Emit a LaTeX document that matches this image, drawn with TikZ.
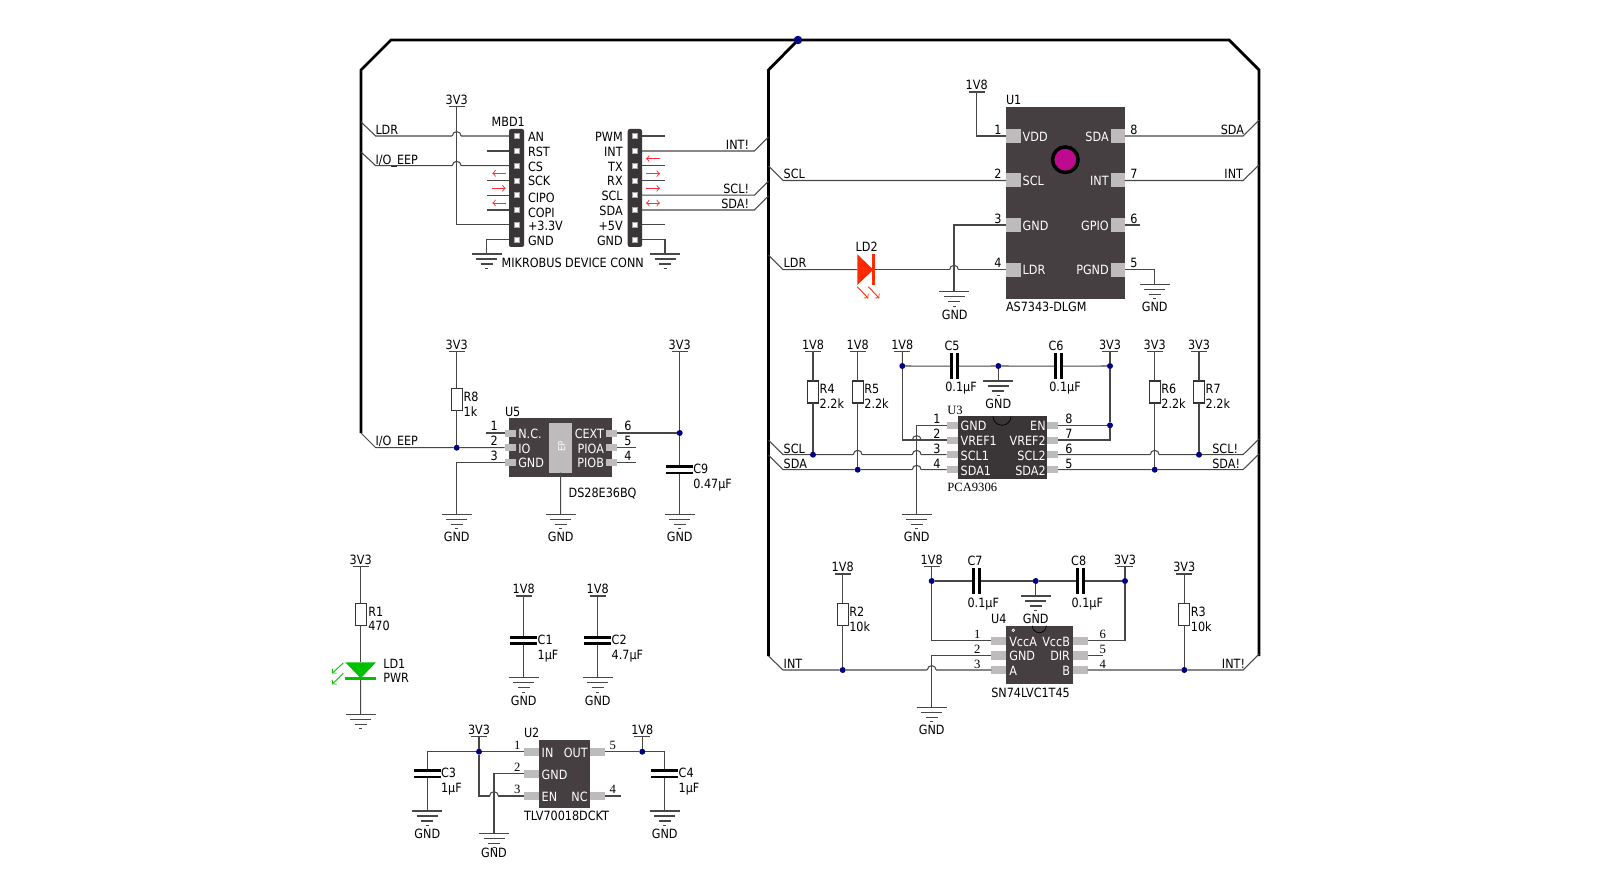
\documentclass[tikz,border=0pt]{standalone}
\usepackage{fontspec}
\setmainfont[FakeStretch=0.88]{DejaVu Sans}
\newfontfamily\serifn{Liberation Serif}
\usetikzlibrary{calc}
\definecolor{chipdark}{HTML}{463F42}
\definecolor{chipblack}{HTML}{3A3537}
\definecolor{padgrey}{HTML}{BDBBBC}
\definecolor{dotblue}{HTML}{000080}
\definecolor{ledred}{HTML}{FF2A00}
\definecolor{ledgreen}{HTML}{00C000}
\definecolor{arrred}{HTML}{FF2A3C}
\definecolor{sensor}{HTML}{BE0A8E}
\tikzset{
	wire/.style={line width=0.6pt,draw=black!72},
	busline/.style={line width=1.6pt,draw=black,line join=miter},
	ct/.style={inner sep=0pt,outer sep=0pt,font=\fontsize{7.25}{8}\selectfont,text height=5.3pt,text depth=0pt},
	lt/.style={ct,anchor=west},
	rt/.style={ct,anchor=east},
	wlt/.style={lt,text=white},
	wrt/.style={rt,text=white},
	st/.style={ct,font=\fontsize{7.2}{8}\selectfont\serifn},
	slt/.style={st,anchor=west},
	chipn/.style={fill=chipdark,inner sep=0pt,outer sep=0pt},
	chipk/.style={fill=chipblack,inner sep=0pt,outer sep=0pt},
	padn/.style={fill=padgrey,inner sep=0pt,outer sep=0pt},
	hdrn/.style={fill=chipblack,rounded corners=1.2pt,inner sep=0pt,outer sep=0pt},
	sqn/.style={fill=white,draw=black!35,line width=0.4pt,minimum size=0.1cm,inner sep=0pt,outer sep=0pt},
	resn/.style={draw=black!80,line width=0.6pt,fill=white,inner sep=0pt,outer sep=0pt},
	platen/.style={fill=black,inner sep=0pt,outer sep=0pt},
	dotn/.style={circle,fill=dotblue,minimum size=0.12cm,inner sep=0pt,outer sep=0pt},
	dirarr/.style={->,line width=0.5pt,draw=arrred},
}
\def\boxn[#1](#2)(#3,#4)(#5,#6){\node[#1,minimum width={(#5-#3)*0.02cm},minimum height={(#6-#4)*0.02cm}] (#2) at ({(#3+#5)/2},{(#4+#6)/2}) {};}
\def\rail(#1)(#2,#3)#4{\coordinate (#1) at (#2,#3); \draw[wire] ({#2-8},#3) -- ({#2+8},#3); \node[ct] (#1t) at (#2,{#3-6.7}) {#4};}
\def\gnd(#1)(#2,#3){\coordinate (#1) at (#2,#3); \draw[wire] ({#2-15},#3) -- ({#2+15},#3) ({#2-10.5},{#3+5}) -- ({#2+10.5},{#3+5}) ({#2-6},{#3+10}) -- ({#2+6},{#3+10}) ({#2-1.5},{#3+14.5}) -- ({#2+1.5},{#3+14.5});}
\def\hop(#1,#2){\draw[white,line width=1.1pt] ({#1-4.4},#2) -- ({#1+4.4},#2); \draw[wire] ({#1-4.4},#2) arc (180:360:4.4);}
\def\dirn[#1](#2)(#3,#4)(#5,#6){\coordinate (#2a) at (#3,#4); \coordinate (#2b) at (#5,#6); \draw[#1] (#2a) -- (#2b);}

\begin{document}
\begin{tikzpicture}[x=0.02cm,y=-0.02cm]
	\useasboundingbox (0,0) rectangle (1599,871);
	%%%%% START %%%%%
	% bus outline
	\coordinate (busT) at (798,40);
	\coordinate (busLa) at (391,40);
	\coordinate (busLb) at (361,70);
	\coordinate (busLc) at (361,433);
	\coordinate (busMa) at (768.5,70);
	\coordinate (busMb) at (768.5,656);
	\coordinate (busRa) at (1229,40);
	\coordinate (busRb) at (1259,70);
	\coordinate (busRc) at (1259,656);
	\draw[busline] (busLc) -- (busLb) -- (busLa) -- (busT) -- (busRa) -- (busRb) -- (busRc);
	\draw[busline] (busT) -- (busMa) -- (busMb);
	\node[dotn,minimum size=0.17cm] (jtop) at (798,40) {};
	
	% net stubs on the bus
	\coordinate (ldrAb) at (361,122);
	\coordinate (ldrAa) at (375.7,136);
	\coordinate (ioAb) at (361,152);
	\coordinate (ioAa) at (375.7,165.7);
	\coordinate (ioBb) at (361,433);
	\coordinate (ioBa) at (375.7,447.7);
	\coordinate (intAb) at (768.5,137);
	\coordinate (intAa) at (754.3,151);
	\coordinate (sclAb) at (768.5,181);
	\coordinate (sclAa) at (754.3,195.2);
	\coordinate (sdaAb) at (768.5,196);
	\coordinate (sdaAa) at (754.3,210);
	\coordinate (sclBb) at (768.5,166);
	\coordinate (sclBa) at (783,180.5);
	\coordinate (ldrBb) at (768.5,255);
	\coordinate (ldrBa) at (783,269.7);
	\coordinate (sclCb) at (768.5,440);
	\coordinate (sclCa) at (783,454.7);
	\coordinate (sdaCb) at (768.5,455);
	\coordinate (sdaCa) at (783,469.7);
	\coordinate (intCb) at (768.5,656);
	\coordinate (intCa) at (783,670);
	\coordinate (sdaDa) at (1243,136);
	\coordinate (sdaDb) at (1259,120);
	\coordinate (intDa) at (1243,180.5);
	\coordinate (intDb) at (1259,165);
	\coordinate (sclEa) at (1243,454.7);
	\coordinate (sclEb) at (1259,439);
	\coordinate (sdaEa) at (1243,469.7);
	\coordinate (sdaEb) at (1259,454);
	\coordinate (intEa) at (1243,670);
	\coordinate (intEb) at (1259,654);
	\node[lt] (ldrAt) at (375.5,130) {LDR};
	\node[lt] (ioAt) at (375.5,159.5) {I/O\_EEP};
	\node[lt] (ioBt) at (375.5,441) {I/O\_EEP};
	\node[rt] (intAt) at (749,144.5) {INT!};
	\node[rt] (sclAt) at (749,189) {SCL!};
	\node[rt] (sdaAt) at (749,204) {SDA!};
	\node[lt] (sclBt) at (783.7,174) {SCL};
	\node[lt] (ldrBt) at (783.7,263) {LDR};
	\node[lt] (sclCt) at (783.7,448.5) {SCL};
	\node[lt] (sdaCt) at (783.7,463.5) {SDA};
	\node[lt] (intCt) at (783.7,663.5) {INT};
	\node[rt] (sdaDt) at (1244,129.5) {SDA};
	\node[rt] (intDt) at (1243,174) {INT};
	\node[rt] (sclEt) at (1238,448.5) {SCL!};
	\node[rt] (sdaEt) at (1240,463.5) {SDA!};
	\node[rt] (intEt) at (1245,663.5) {INT!};
	
	% mikrobus header
	\boxn[hdrn](mbl)(509,129)(524,247)
	\boxn[hdrn](mbr)(627.7,129)(642,247)
	\node[sqn] (mbl1) at (516.7,136) {};
	\node[sqn] (mbl2) at (516.7,151) {};
	\node[sqn] (mbl3) at (516.7,165.7) {};
	\node[sqn] (mbl4) at (516.7,180.5) {};
	\node[sqn] (mbl5) at (516.7,195.2) {};
	\node[sqn] (mbl6) at (516.7,210) {};
	\node[sqn] (mbl7) at (516.7,224.8) {};
	\node[sqn] (mbl8) at (516.7,239.6) {};
	\node[sqn] (mbr1) at (635,136) {};
	\node[sqn] (mbr2) at (635,151) {};
	\node[sqn] (mbr3) at (635,165.7) {};
	\node[sqn] (mbr4) at (635,180.5) {};
	\node[sqn] (mbr5) at (635,195.2) {};
	\node[sqn] (mbr6) at (635,210) {};
	\node[sqn] (mbr7) at (635,224.8) {};
	\node[sqn] (mbr8) at (635,239.6) {};
	\node[lt] (mbl1t) at (528,136.7) {AN};
	\node[lt] (mbl2t) at (528,151.7) {RST};
	\node[lt] (mbl3t) at (528,166.7) {CS};
	\node[lt] (mbl4t) at (528,181.3) {SCK};
	\node[lt] (mbl5t) at (528,197.7) {CIPO};
	\node[lt] (mbl6t) at (528,212.7) {COPI};
	\node[lt] (mbl7t) at (528,226) {+3.3V};
	\node[lt] (mbl8t) at (528,240.7) {GND};
	\node[rt] (mbr1t) at (622.7,136.7) {PWM};
	\node[rt] (mbr2t) at (622.7,151.7) {INT};
	\node[rt] (mbr3t) at (622.7,166.7) {TX};
	\node[rt] (mbr4t) at (622.7,181.3) {RX};
	\node[rt] (mbr5t) at (622.7,196) {SCL};
	\node[rt] (mbr6t) at (622.7,211) {SDA};
	\node[rt] (mbr7t) at (622.7,225.7) {+5V};
	\node[rt] (mbr8t) at (622.7,240.7) {GND};
	\node[lt] (mbdt) at (491.7,122.3) {MBD1};
	\node[lt] (mbdn) at (501.7,262.7) {MIKROBUS DEVICE CONN};
	
	\coordinate (mst2) at (486.7,151);
	\coordinate (mst4) at (486.7,180.5);
	\coordinate (mst5) at (486.7,195.2);
	\coordinate (mst6) at (486.7,210);
	\coordinate (nst1) at (665,136);
	\coordinate (nst3) at (665,165.7);
	\coordinate (nst4) at (665,180.5);
	\coordinate (nst7) at (665,224.8);
	\draw[wire] (mst2) -- (mbl2 -| mbl.west);
	\draw[wire] (mst4) -- (mbl4 -| mbl.west);
	\draw[wire] (mst5) -- (mbl5 -| mbl.west);
	\draw[wire] (mst6) -- (mbl6 -| mbl.west);
	\draw[wire] (nst1) -- (mbr1 -| mbr.east);
	\draw[wire] (nst3) -- (mbr3 -| mbr.east);
	\draw[wire] (nst4) -- (mbr4 -| mbr.east);
	\draw[wire] (nst7) -- (mbr7 -| mbr.east);
	\draw[wire] (ldrAb) -- (ldrAa) -- (mbl1 -| mbl.west);
	\draw[wire] (ioAb) -- (ioAa) -- (mbl3 -| mbl.west);
	\hop(456.7,136)
	\hop(456.7,165.7)
	\rail(vmb)(456.7,106.7){3V3}
	\draw[wire] (vmb) |- (mbl7 -| mbl.west);
	\gnd(gml)(486.7,254)
	\gnd(gmr)(665,254)
	\draw[wire] (gml) |- (mbl8 -| mbl.west);
	\draw[wire] (gmr) |- (mbr8 -| mbr.east);
	\draw[wire] (mbr2 -| mbr.east) -- (intAa) -- (intAb);
	\draw[wire] (mbr5 -| mbr.east) -- (sclAa) -- (sclAb);
	\draw[wire] (mbr6 -| mbr.east) -- (sdaAa) -- (sdaAb);
	\dirn[dirarr](da1)(505.7,173.3)(492.3,173.3)
	\dirn[dirarr](da2)(492.3,188.3)(505.7,188.3)
	\dirn[dirarr](da3)(505.7,203)(492.3,203)
	\dirn[dirarr](da4)(660,158.7)(646,158.7)
	\dirn[dirarr](da5)(646,173.7)(660,173.7)
	\dirn[dirarr](da6)(646,188.3)(660,188.3)
	\dirn[dirarr,<->](da7)(646,203)(660,203)
	
	% U1
	\boxn[chipn](u1)(1006,106.7)(1124.7,298.7)
	\boxn[padn](u1p1)(1006,129)(1020.5,143)
	\boxn[padn](u1p2)(1006,173.5)(1020.5,187.5)
	\boxn[padn](u1p3)(1006,218)(1020.5,232)
	\boxn[padn](u1p4)(1006,262.7)(1020.5,276.7)
	\boxn[padn](u1p8)(1110.5,129)(1124.7,143)
	\boxn[padn](u1p7)(1110.5,173.5)(1124.7,187.5)
	\boxn[padn](u1p6)(1110.5,218)(1124.7,232)
	\boxn[padn](u1p5)(1110.5,262.7)(1124.7,276.7)
	\node[circle,fill=sensor,draw=black,line width=2pt,minimum size=0.51cm,inner sep=0pt] (u1s) at (1065.3,159.7) {};
	\node[wlt] (u1a) at (1022.7,136.7) {VDD};
	\node[wlt] (u1b) at (1022.7,181) {SCL};
	\node[wlt] (u1c) at (1022.7,226) {GND};
	\node[wlt] (u1d) at (1022.7,270.3) {LDR};
	\node[wrt] (u1e) at (1108.7,136.7) {SDA};
	\node[wrt] (u1f) at (1108.7,181) {INT};
	\node[wrt] (u1g) at (1108.7,226) {GPIO};
	\node[wrt] (u1h) at (1108.7,270.3) {PGND};
	\node[lt] (u1t) at (1006,100) {U1};
	\node[lt] (u1n) at (1006,307.3) {AS7343-DLGM};
	\node[ct] (u1n1) at (998,129.6) {1};
	\node[ct] (u1n2) at (998,174) {2};
	\node[ct] (u1n3) at (998,218.7) {3};
	\node[ct] (u1n4) at (998,263) {4};
	\node[ct] (u1n8) at (1134,129.6) {8};
	\node[ct] (u1n7) at (1134,174) {7};
	\node[ct] (u1n6) at (1134,218.7) {6};
	\node[ct] (u1n5) at (1134,263) {5};
	\rail(vu1)(976.7,92){1V8}
	\draw[wire] (vu1) |- (u1p1.west);
	\draw[wire] (sclBb) -- (sclBa) -- (u1p2.west);
	\coordinate (ld2a) at (857.3,269.7);
	\coordinate (ld2k) at (873.3,269.7);
	\draw[wire] (ldrBb) -- (ldrBa) -- (ld2a);
	\draw[wire] (ld2k) -- (u1p4.west);
	\fill[ledred] (857.3,254.3) -- (ld2k) -- (857.3,285) -- cycle;
	\boxn[platen,fill=ledred](ld2b)(872,254.3)(874.6,285)
	\node[ct] (ld2t) at (866.7,246.7) {LD2};
	\dirn[->,line width=0.5pt,draw=ledred](la1)(857.3,286.7)(868.3,298.3)
	\dirn[->,line width=0.5pt,draw=ledred](la2)(868.3,286.7)(879.3,298.3)
	\hop(954,269.7)
	\gnd(gu1)(954,291.7)
	\node[ct] (gu1t) at (954.7,314.7) {GND};
	\draw[wire] (gu1) |- (u1p3.west);
	\gnd(gu2)(1154.7,284.3)
	\node[ct] (gu2t) at (1154.7,307.3) {GND};
	\draw[wire] (gu2) |- (u1p5.east);
	\coordinate (u1st) at (1140,225);
	\draw[wire] (u1p6.east) -- (u1st);
	\draw[wire] (u1p8.east) -- (sdaDa) -- (sdaDb);
	\draw[wire] (u1p7.east) -- (intDa) -- (intDb);
	
	% U3
	\boxn[chipk](u3)(958.3,416.3)(1046.7,478.7)
	\draw[black,line width=0.4pt] (993,416.3) arc (180:0:9);
	\boxn[padn](u3p1)(946.7,421.8)(958.3,428.8)
	\boxn[padn](u3p2)(946.7,436.5)(958.3,443.5)
	\boxn[padn](u3p3)(946.7,451.2)(958.3,458.2)
	\boxn[padn](u3p4)(946.7,466.2)(958.3,473.2)
	\boxn[padn](u3p8)(1046.7,421.8)(1058,428.8)
	\boxn[padn](u3p7)(1046.7,436.5)(1058,443.5)
	\boxn[padn](u3p6)(1046.7,451.2)(1058,458.2)
	\boxn[padn](u3p5)(1046.7,466.2)(1058,473.2)
	\node[wlt] (u3a) at (960.7,426) {GND};
	\node[wlt] (u3b) at (960.7,441) {VREF1};
	\node[wlt] (u3c) at (960.7,455.7) {SCL1};
	\node[wlt] (u3d) at (960.7,470.7) {SDA1};
	\node[wrt] (u3e) at (1045.7,426) {EN};
	\node[wrt] (u3f) at (1045.7,441) {VREF2};
	\node[wrt] (u3g) at (1045.7,455.7) {SCL2};
	\node[wrt] (u3h) at (1045.7,470.7) {SDA2};
	\node[ct] (u3n1) at (937,419.3) {1};
	\node[ct] (u3n2) at (937,434) {2};
	\node[ct] (u3n3) at (937,448.7) {3};
	\node[ct] (u3n4) at (937,463.5) {4};
	\node[ct] (u3n8) at (1069,419.3) {8};
	\node[ct] (u3n7) at (1069,434) {7};
	\node[ct] (u3n6) at (1069,448.7) {6};
	\node[ct] (u3n5) at (1069,463.5) {5};
	\node[slt] (u3t) at (947.3,410) {U3};
	\node[slt] (u3l) at (947.3,487) {PCA9306};
	\node[dotn] (j1) at (813,454.7) {};
	\node[dotn] (j2) at (857.7,469.7) {};
	\node[dotn] (j3) at (902.3,366) {};
	\node[dotn] (j4) at (998.3,366) {};
	\node[dotn] (j5) at (1110,366) {};
	\node[dotn] (j6) at (1110,425.3) {};
	\node[dotn] (j7) at (1154.7,469.7) {};
	\node[dotn] (j8) at (1199,454.7) {};
	\draw[wire] (sclCb) -- (sclCa) -- (j1) -- (u3p3.west);
	\draw[wire] (sdaCb) -- (sdaCa) -- (j2) -- (u3p4.west);
	\hop(857.7,454.7)
	\hop(916.7,440)
	\hop(916.7,454.7)
	\hop(916.7,469.7)
	\draw[wire] (u3p6.east) -- (j8) -- (sclEa) -- (sclEb);
	\draw[wire] (u3p5.east) -- (j7) -- (sdaEa) -- (sdaEb);
	\hop(1154.7,454.7)
	\rail(vr4)(813,351.3){1V8}
	\rail(vr5)(857.7,351.3){1V8}
	\rail(vc5)(902.3,351.3){1V8}
	\rail(vc6)(1110,351.3){3V3}
	\rail(vr6)(1154.7,351.3){3V3}
	\rail(vr7)(1199,351.3){3V3}
	\boxn[resn](r4)(807.5,381)(818.5,403)
	\boxn[resn](r5)(852.2,381)(863.2,403)
	\boxn[resn](r6)(1149.2,381)(1160.2,403)
	\boxn[resn](r7)(1193.5,381)(1204.5,403)
	\draw[wire] (vr4) -- (r4.north) (r4.south) -- (j1);
	\draw[wire] (vr5) -- (r5.north) (r5.south) -- (j2);
	\draw[wire] (vr6) -- (r6.north) (r6.south) -- (j7);
	\draw[wire] (vr7) -- (r7.north) (r7.south) -- (j8);
	\node[lt] (r4t) at (819.7,389) {R4};
	\node[lt] (r4v) at (819.7,404.3) {2.2k};
	\node[lt] (r5t) at (864.4,389) {R5};
	\node[lt] (r5v) at (864.4,404.3) {2.2k};
	\node[lt] (r6t) at (1161.4,389) {R6};
	\node[lt] (r6v) at (1161.4,404.3) {2.2k};
	\node[lt] (r7t) at (1205.7,389) {R7};
	\node[lt] (r7v) at (1205.7,404.3) {2.2k};
	\boxn[platen](c5a)(949.8,353)(952.8,379.3)
	\boxn[platen](c5b)(955.8,353)(958.8,379.3)
	\boxn[platen](c6a)(1053.8,353)(1056.8,379.3)
	\boxn[platen](c6b)(1059.8,353)(1062.8,379.3)
	\draw[wire] (vc5) -- (j3) -- (c5a.west);
	\draw[wire] (c5b.east) -- (j4) -- (c6a.west);
	\draw[wire] (c6b.east) -- (j5);
	\draw[wire] (vc6) -- (j5) -- (j6) -- (u3p8.east);
	\draw[wire] (j6) |- (u3p7.east);
	\draw[wire] (j3) |- (u3p2.west);
	\gnd(gc5)(998.3,381)
	\draw[wire] (j4) -- (gc5);
	\node[ct] (gc5t) at (998.3,404) {GND};
	\gnd(gu3)(916.7,514.3)
	\draw[wire] (gu3) |- (u3p1.west);
	\node[ct] (gu3t) at (916.7,537) {GND};
	\node[ct] (c5t) at (952,346.3) {C5};
	\node[ct] (c5v) at (961,387.3) {0.1µF};
	\node[ct] (c6t) at (1056,346.3) {C6};
	\node[ct] (c6v) at (1065,387.3) {0.1µF};
	
	% U4
	\boxn[chipn](u4)(1006.3,625.7)(1072.7,684.3)
	\draw[black,line width=0.4pt] (1032.3,625.7) arc (180:0:7);
	\boxn[padn](u4p1)(991.3,636.5)(1006.3,644.9)
	\boxn[padn](u4p2)(991.3,651.1)(1006.3,659.5)
	\boxn[padn](u4p3)(991.3,665.8)(1006.3,674.2)
	\boxn[padn](u4p6)(1072.7,636.5)(1087.7,644.9)
	\boxn[padn](u4p5)(1072.7,651.1)(1087.7,659.5)
	\boxn[padn](u4p4)(1072.7,665.8)(1087.7,674.2)
	\draw[white,line width=0.4pt] (1014.6,630.3) arc (0:360:1.3);
	\node[wlt] (u4a) at (1009.3,641.5) {VccA};
	\node[wlt] (u4b) at (1009.3,656.3) {GND};
	\node[wlt] (u4c) at (1009.3,671) {A};
	\node[wrt] (u4d) at (1070,641.5) {VccB};
	\node[wrt] (u4e) at (1070,656.3) {DIR};
	\node[wrt] (u4f) at (1070,671) {B};
	\node[st] (u4n1) at (977.3,633.7) {1};
	\node[st] (u4n2) at (977.3,649) {2};
	\node[st] (u4n3) at (977.3,663.7) {3};
	\node[st] (u4n6) at (1102.7,633.7) {6};
	\node[st] (u4n5) at (1102.7,649) {5};
	\node[st] (u4n4) at (1102.7,663.7) {4};
	\node[ct] (u4t) at (998.7,619.3) {U4};
	\node[lt] (u4l) at (991.3,693.3) {SN74LVC1T45};
	\node[dotn] (k1) at (842.7,670) {};
	\node[dotn] (k2) at (1184.3,670) {};
	\node[dotn] (k3) at (931.7,581) {};
	\node[dotn] (k4) at (1035.7,581) {};
	\node[dotn] (k5) at (1125,581) {};
	\draw[wire] (intCb) -- (intCa) -- (k1) -- (u4p3.west);
	\hop(931.7,670)
	\draw[wire] (u4p4.east) -- (k2) -- (intEa) -- (intEb);
	\rail(vr2)(842.7,574){1V8}
	\rail(vr3)(1184.3,574){3V3}
	\rail(vc7)(931.7,566.7){1V8}
	\rail(vc8)(1125,566.7){3V3}
	\boxn[resn](r2)(837.2,603.3)(848.2,625.3)
	\boxn[resn](r3)(1178.8,603.3)(1189.8,625.3)
	\draw[wire] (vr2) -- (r2.north) (r2.south) -- (k1);
	\draw[wire] (vr3) -- (r3.north) (r3.south) -- (k2);
	\node[lt] (r2t) at (849.3,611.7) {R2};
	\node[lt] (r2v) at (849.3,626.7) {10k};
	\node[lt] (r3t) at (1190.9,611.7) {R3};
	\node[lt] (r3v) at (1190.9,626.7) {10k};
	\boxn[platen](c7a)(971.8,567.7)(974.8,594.3)
	\boxn[platen](c7b)(977.8,567.7)(980.8,594.3)
	\boxn[platen](c8a)(1075.8,567.7)(1078.8,594.3)
	\boxn[platen](c8b)(1081.8,567.7)(1084.8,594.3)
	\draw[wire] (vc7) -- (k3) -- (c7a.west);
	\draw[wire] (c7b.east) -- (k4) -- (c8a.west);
	\draw[wire] (c8b.east) -- (k5);
	\draw[wire] (k3) |- (u4p1.west);
	\draw[wire] (vc8) -- (k5) |- (u4p6.east);
	\gnd(gc7)(1035.7,596)
	\draw[wire] (k4) -- (gc7);
	\node[ct] (gc7t) at (1035.7,619) {GND};
	\gnd(gu4)(931.7,707.3)
	\draw[wire] (gu4) |- (u4p2.west);
	\node[ct] (gu4t) at (931.7,730) {GND};
	\coordinate (u4st) at (1103.3,655.3);
	\draw[wire] (u4p5.east) -- (u4st);
	\node[ct] (c7t) at (975,561) {C7};
	\node[ct] (c7v) at (983.3,602.7) {0.1µF};
	\node[ct] (c8t) at (1078.7,561) {C8};
	\node[ct] (c8v) at (1087.3,602.7) {0.1µF};
	
	% U5
	\boxn[chipn](u5)(509,418.3)(612.3,477)
	\boxn[padn](u5ep)(549,422.7)(572.3,472.7)
	\boxn[padn](u5p1)(504.7,429.5)(516,436.5)
	\boxn[padn](u5p2)(504.7,444.2)(516,451.2)
	\boxn[padn](u5p3)(504.7,458.8)(516,465.8)
	\boxn[padn](u5p6)(606,429.5)(617,436.5)
	\boxn[padn](u5p5)(606,444.2)(617,451.2)
	\boxn[padn](u5p4)(606,458.8)(617,465.8)
	\node[ct,text=white,rotate=90,font=\fontsize{5.5}{6}\selectfont] (u5e) at (560.7,446.7) {EP};
	\node[wlt] (u5a) at (518.3,433.7) {N.C.};
	\node[wlt] (u5b) at (518.3,448.5) {IO};
	\node[wlt] (u5c) at (518.3,463) {GND};
	\node[wrt] (u5d) at (604,433.7) {CEXT};
	\node[wrt] (u5f) at (604,448.5) {PIOA};
	\node[wrt] (u5g) at (604,463) {PIOB};
	\node[ct] (u5n1) at (494.3,426.3) {1};
	\node[ct] (u5n2) at (494.3,441) {2};
	\node[ct] (u5n3) at (494.3,456) {3};
	\node[ct] (u5n6) at (628,426.3) {6};
	\node[ct] (u5n5) at (628,441) {5};
	\node[ct] (u5n4) at (628,456) {4};
	\node[lt] (u5t) at (505,411.7) {U5};
	\node[lt] (u5l) at (568.7,493.3) {DS28E36BQ};
	\node[dotn] (m1) at (456.7,447.7) {};
	\node[dotn] (m2) at (679.7,433) {};
	\coordinate (u5st1) at (486,433);
	\coordinate (u5st5) at (635.7,447.7);
	\coordinate (u5st4) at (635.7,462.3);
	\draw[wire] (u5st1) -- (u5p1.west);
	\draw[wire] (u5p5.east) -- (u5st5);
	\draw[wire] (u5p4.east) -- (u5st4);
	\draw[wire] (ioBb) -- (ioBa) -- (m1) -- (u5p2.west);
	\rail(vr8)(456.7,351.3){3V3}
	\rail(vc9)(679.7,351.3){3V3}
	\boxn[resn](r8)(451.2,388.3)(462.2,410.3)
	\draw[wire] (vr8) -- (r8.north) (r8.south) -- (m1);
	\node[lt] (r8t) at (463.7,396.7) {R8};
	\node[lt] (r8v) at (463.7,411.7) {1k};
	\boxn[platen](c9a)(666.4,465.3)(693,468)
	\boxn[platen](c9b)(666.4,471.7)(693,474.4)
	\node[lt] (c9t) at (693.3,469.3) {C9};
	\node[lt] (c9v) at (693.3,484.3) {0.47µF};
	\gnd(gu5a)(456.7,514.3)
	\gnd(gu5b)(560.7,514.3)
	\gnd(gu5c)(679.7,514.3)
	\node[ct] (gu5at) at (456.7,537) {GND};
	\node[ct] (gu5bt) at (560.7,537) {GND};
	\node[ct] (gu5ct) at (679.7,537) {GND};
	\draw[wire] (gu5a) |- (u5p3.west);
	\draw[wire] (gu5b) -- (u5ep.south);
	\draw[wire] (vc9) -- (m2) -- (c9a.north);
	\draw[wire] (m2) -- (u5p6.east);
	\draw[wire] (c9b.south) -- (gu5c);
	
	% LD1
	\rail(vr1)(360.7,566.7){3V3}
	\boxn[resn](r1)(355.2,603.3)(366.2,625.3)
	\node[lt] (r1t) at (368.3,611.7) {R1};
	\node[lt] (r1v) at (368.3,626.3) {470};
	\coordinate (ld1a) at (360.7,662.3);
	\boxn[platen,fill=ledgreen](ld1k)(345.3,677)(376,679.7)
	\gnd(gld)(360.7,714.3)
	\draw[wire] (vr1) -- (r1.north) (r1.south) -- (ld1a);
	\draw[wire] (ld1k.south) -- (gld);
	\fill[ledgreen] (345.3,662.3) -- (376,662.3) -- (360.7,678.3) -- cycle;
	\dirn[->,line width=0.5pt,draw=ledgreen](lb1)(343.3,663)(332,673.3)
	\dirn[->,line width=0.5pt,draw=ledgreen](lb2)(343.3,673.3)(332,684.3)
	\node[lt] (ld1t) at (383.3,663.7) {LD1};
	\node[lt] (ld1v) at (383.3,678.3) {PWR};
	
	% C1 C2
	\rail(vc1)(523.7,596){1V8}
	\rail(vc2)(597.7,596){1V8}
	\boxn[platen](c1a)(510.4,636)(537,638.7)
	\boxn[platen](c1b)(510.4,642.3)(537,645)
	\boxn[platen](c2a)(584.4,636)(611,638.7)
	\boxn[platen](c2b)(584.4,642.3)(611,645)
	\gnd(gc1)(523.7,677.7)
	\gnd(gc2)(597.7,677.7)
	\draw[wire] (vc1) -- (c1a.north) (c1b.south) -- (gc1);
	\draw[wire] (vc2) -- (c2a.north) (c2b.south) -- (gc2);
	\node[lt] (c1t) at (537.7,640) {C1};
	\node[lt] (c1v) at (537.7,655) {1µF};
	\node[lt] (c2t) at (611.7,640) {C2};
	\node[lt] (c2v) at (611.7,655) {4.7µF};
	\node[ct] (gc1t) at (523.7,700.7) {GND};
	\node[ct] (gc2t) at (597.7,700.7) {GND};
	
	% U2
	\boxn[chipn](u2)(538.7,740)(590,808.3)
	\boxn[padn](u2p1)(524,747.5)(538.7,755.9)
	\boxn[padn](u2p2)(524,769.5)(538.7,777.9)
	\boxn[padn](u2p3)(524,791.8)(538.7,800.2)
	\boxn[padn](u2p5)(590,747.5)(605.3,755.9)
	\boxn[padn](u2p4)(590,791.8)(605.3,800.2)
	\node[wlt] (u2a) at (541.7,752.5) {IN};
	\node[wlt] (u2b) at (541.7,774.5) {GND};
	\node[wlt] (u2c) at (541.7,797) {EN};
	\node[wrt] (u2d) at (587.7,752.5) {OUT};
	\node[wrt] (u2e) at (587.7,797) {NC};
	\node[st] (u2n1) at (517.3,745) {1};
	\node[st] (u2n2) at (517.3,767.3) {2};
	\node[st] (u2n3) at (517.3,789.3) {3};
	\node[st] (u2n5) at (612.7,745) {5};
	\node[st] (u2n4) at (612.7,789.3) {4};
	\node[lt] (u2t) at (524,733.3) {U2};
	\node[lt] (u2l) at (524,816) {TLV70018DCKT};
	\node[dotn] (q1) at (479,751.7) {};
	\node[dotn] (q2) at (642.3,751.7) {};
	\rail(vu2a)(479,736.7){3V3}
	\rail(vu2b)(642.3,736.7){1V8}
	\boxn[platen](c3a)(414,769.3)(440.6,772)
	\boxn[platen](c3b)(414,775.6)(440.6,778.3)
	\boxn[platen](c4a)(651.4,769.3)(678,772)
	\boxn[platen](c4b)(651.4,775.6)(678,778.3)
	\gnd(gc3)(427.3,811)
	\gnd(gc4)(664.7,811)
	\gnd(gu2)(494,833.3)
	\draw[wire] (vu2a) -- (q1) -- (u2p1.west);
	\draw[wire] (vu2b) -- (q2) -- (u2p5.east);
	\draw[wire] (q1) -| (c3a.north);
	\draw[wire] (c3b.south) -- (gc3);
	\draw[wire] (q2) -| (c4a.north);
	\draw[wire] (c4b.south) -- (gc4);
	\draw[wire] (q1) |- (u2p3.west);
	\hop(494,796)
	\draw[wire] (gu2) |- (u2p2.west);
	\coordinate (u2st) at (620.7,796);
	\draw[wire] (u2p4.east) -- (u2st);
	\node[lt] (c3t) at (441,773.3) {C3};
	\node[lt] (c3v) at (441,788.3) {1µF};
	\node[lt] (c4t) at (678.7,773.3) {C4};
	\node[lt] (c4v) at (678.7,788.3) {1µF};
	\node[ct] (gc3t) at (427.3,834) {GND};
	\node[ct] (gc4t) at (664.7,834) {GND};
	\node[ct] (gu2t) at (494,853) {GND};
	%%%%% END %%%%%
\end{tikzpicture}
\end{document}
